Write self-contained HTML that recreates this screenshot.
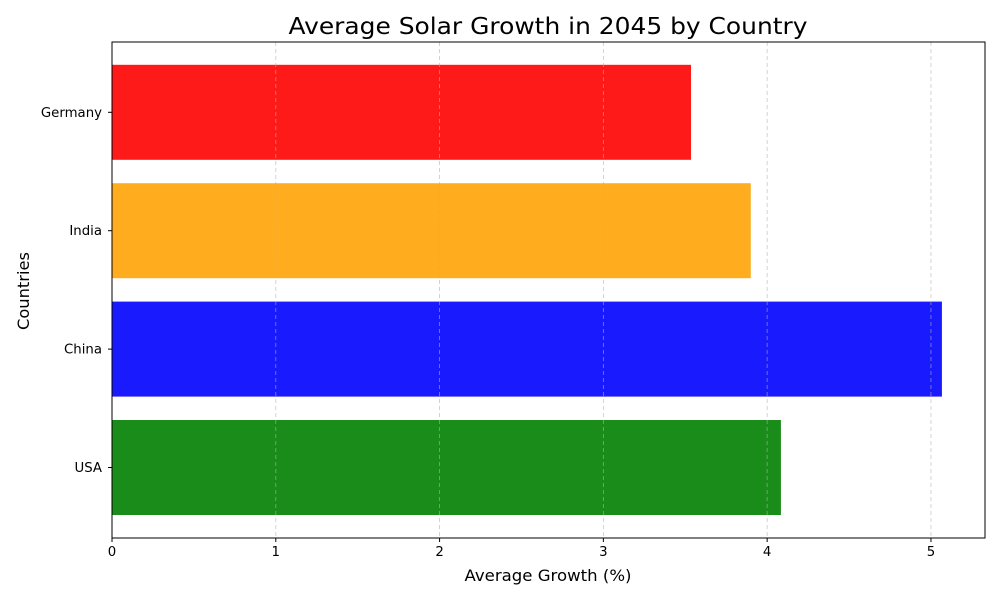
<!DOCTYPE html>
<html><head><meta charset="utf-8"><style>
body{margin:0;background:#fff;}
svg{display:block;font-family:"DejaVu Sans","Liberation Sans",sans-serif;}
</style></head><body>
<svg id="chart" width="1000" height="600">
<rect width="1000" height="600" fill="#fff"/>
<text x="548" y="34" font-size="23.5" text-anchor="middle" textLength="519" lengthAdjust="spacingAndGlyphs" fill="#000">Average Solar Growth in 2045 by Country</text>
<g id="bars"></g><g id="grid"></g><g id="axes"></g>
<text x="548" y="581" font-size="16" text-anchor="middle" textLength="167" lengthAdjust="spacingAndGlyphs">Average Growth (%)</text>
<text transform="translate(29,291) rotate(-90)" font-size="16" text-anchor="middle" textLength="78" lengthAdjust="spacingAndGlyphs">Countries</text>
</svg>
<script>
const categories = ["USA","China","India","Germany"];
const values = [4.084, 5.067, 3.90, 3.535];
const colors = ["#1a8c1a","#1a1aff","#ffad1f","#ff1a1a"];
const xTicks = [0,1,2,3,4,5];
const NS="http://www.w3.org/2000/svg";
const L=112,R=985,T=42,B=538,xMax=5.33;
const x=v=>L+v/xMax*(R-L);
const step=118.4, y=i=>467.5-i*step, bh=95;
function mk(t,a,p){const e=document.createElementNS(NS,t);for(const k in a)e.setAttribute(k,a[k]);p.appendChild(e);return e;}
const bars=document.getElementById('bars'),grid=document.getElementById('grid'),axes=document.getElementById('axes');
categories.forEach((c,i)=>{
 const r=mk('rect',{x:x(0),y:y(i)-bh/2,width:x(values[i])-x(0),height:bh,fill:colors[i]},bars);
 
 
 const t=mk('line',{x1:L-4,x2:L,y1:y(i),y2:y(i),stroke:'#000'},axes);
 
 
 const lb=mk('text',{x:L-10,y:y(i)+4.5,'font-size':13.3,'text-anchor':'end'},axes);
 lb.textContent=c;
 
 
});
xTicks.forEach(v=>{
 const g=mk('line',{x1:x(v),x2:x(v),y1:T,y2:B,stroke:'#b0b0b0','stroke-opacity':0.7,'stroke-dasharray':'4,3','stroke-width':0.8},grid);
 
 
 const t=mk('line',{x1:x(v),x2:x(v),y1:B,y2:B+4,stroke:'#000'},axes);
 
 
 const lb=mk('text',{x:x(v),y:B+18,'font-size':13.3,'text-anchor':'middle'},axes);
 lb.textContent=v;
 
 
});
const f=mk('rect',{x:L,y:T,width:R-L,height:B-T,fill:'none',stroke:'#000','stroke-width':1},axes);


</script>
</body></html>
